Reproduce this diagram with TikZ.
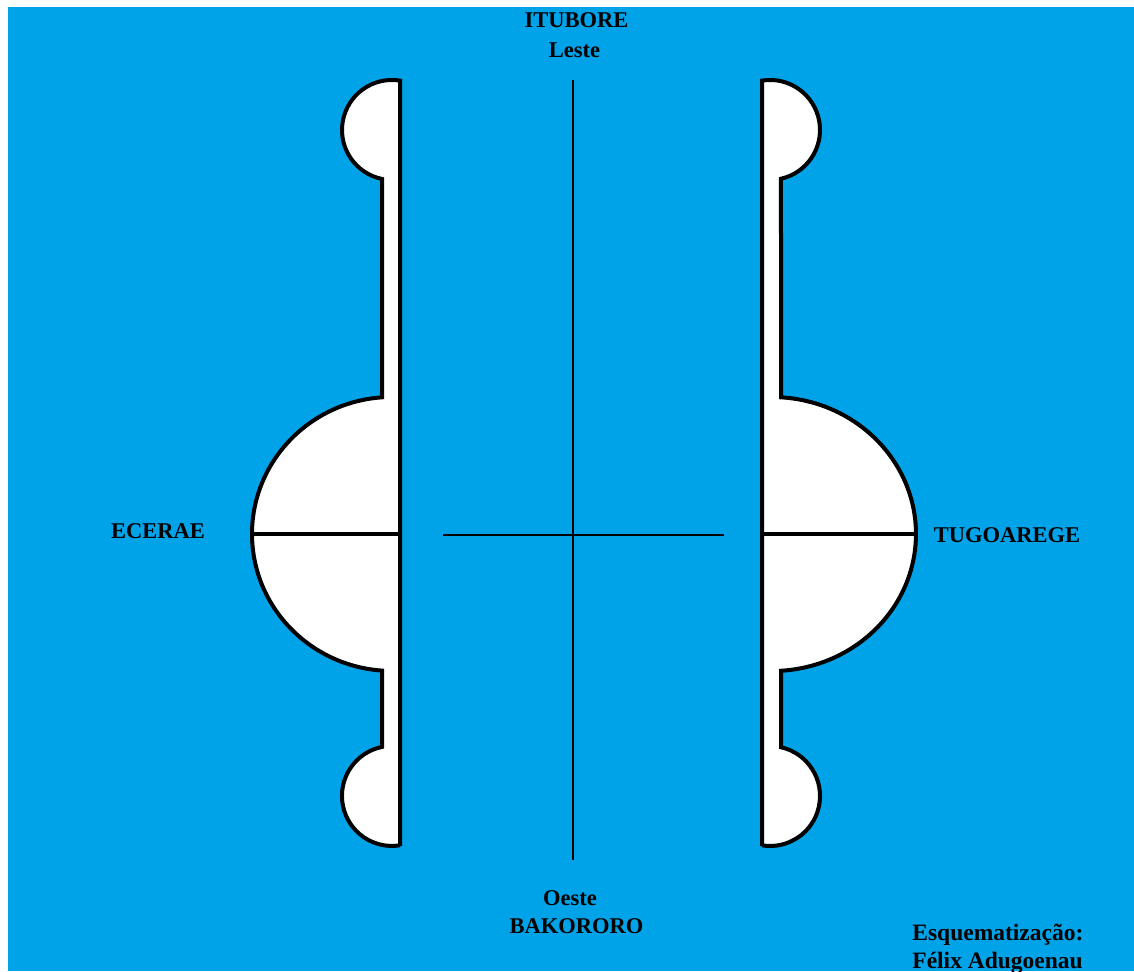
\documentclass[tikz,border=0pt]{standalone}
\usepackage{fontspec}
\setmainfont{Liberation Serif}
\definecolor{skyblue}{RGB}{0,162,232}
\begin{document}
\begin{tikzpicture}[x=0.5pt,y=-0.5pt,
  spool/.style={fill=white,draw=black,line width=2pt},
  halfline/.style={draw=black,line width=2pt},
  axisline/.style={draw=black,line width=0.75pt},
  lbl/.style={font=\bfseries\fontsize{11.25}{13}\selectfont,inner sep=0pt,anchor=base},
  credit/.style={font=\bfseries\fontsize{11.75}{13}\selectfont,inner sep=0pt,anchor=base west}]
\useasboundingbox (0,0) rectangle (1134,971);
\fill[skyblue] (8,7) rectangle (1134,971);
% left figure
\draw[spool] (400,80.6)
  arc[start angle=-80.8,end angle=-258.5,radius=50]
  -- (382,397.3)
  arc[start angle=-94.1,end angle=-265.9,x radius=140,y radius=137]
  -- (382,746.9)
  arc[start angle=-101.5,end angle=-279.2,radius=50]
  -- (400,846) -- cycle;
\coordinate (lw) at (252,534);
\coordinate (le) at (400,534);
\draw[halfline] (lw) -- (le);
% right figure
\draw[spool] (762,80.6)
  arc[start angle=-99.2,end angle=77.3,radius=50]
  -- (781,397.3)
  arc[start angle=-86.4,end angle=86.4,x radius=144,y radius=137]
  -- (781,747.2)
  arc[start angle=-77.3,end angle=99.2,radius=50]
  -- (762,846) -- cycle;
\coordinate (rw) at (762,534);
\coordinate (re) at (916,534);
\draw[halfline] (rw) -- (re);
% cross
\coordinate (ntop) at (573,80);
\coordinate (nbot) at (573,860);
\coordinate (cw) at (443,535);
\coordinate (ce) at (724,535);
\draw[axisline] (ntop) -- (nbot);
\draw[axisline] (cw) -- (ce);
% labels
\node[lbl] (itubore) at (576.5,27) {ITUBORE};
\node[lbl] (leste) at (574.5,57) {Leste};
\node[lbl] (oeste) at (570,905) {Oeste};
\node[lbl] (bakororo) at (576.5,933) {BAKORORO};
\node[lbl] (ecerae) at (158,538) {ECERAE};
\node[lbl] (tugoarege) at (1007,542) {TUGOAREGE};
\node[credit] (esq) at (912,940) {Esquematização:};
\node[credit] (felix) at (912,968) {Félix Adugoenau};
\end{tikzpicture}
\end{document}
